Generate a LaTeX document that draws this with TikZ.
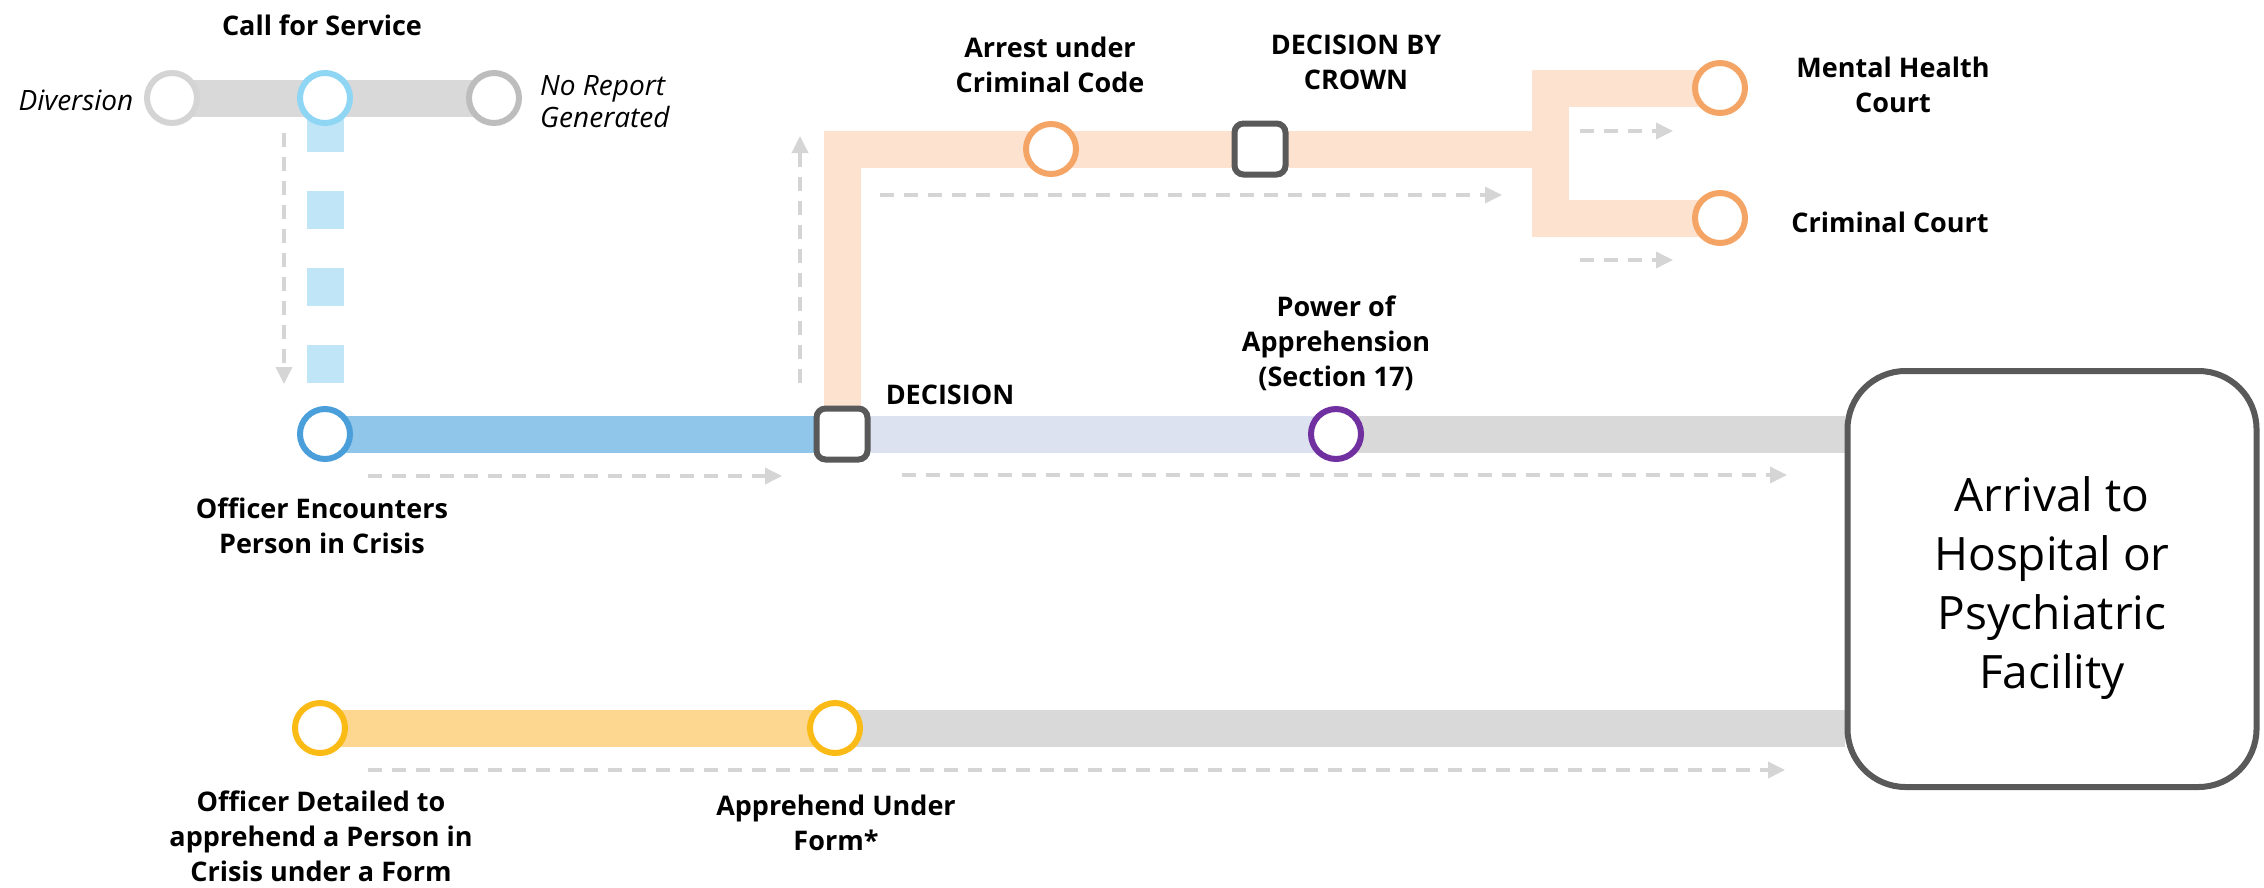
\documentclass[tikz,border=0pt]{standalone}
\usepackage{fontspec}
\setmainfont{Open Sans}
\usetikzlibrary{arrows.meta,backgrounds}
\definecolor{barGray}{HTML}{D9D9D9}
\definecolor{divRing}{HTML}{D4D4D4}
\definecolor{nrRing}{HTML}{BDBDBD}
\definecolor{callRing}{HTML}{8ED6F4}
\definecolor{blueDash}{HTML}{BFE5F6}
\definecolor{offRing}{HTML}{4A9FDB}
\definecolor{blueBar}{HTML}{8FC6EA}
\definecolor{sqGray}{HTML}{595959}
\definecolor{orBar}{HTML}{FDE2CF}
\definecolor{orRing}{HTML}{F4A566}
\definecolor{lavBar}{HTML}{DDE2F1}
\definecolor{purpRing}{HTML}{7030A0}
\definecolor{yBar}{HTML}{FDD68F}
\definecolor{yRing}{HTML}{FBBB17}
\definecolor{arrGray}{HTML}{D5D5D5}
\begin{document}
\begin{tikzpicture}[x=1pt,y=-1pt,
  ring/.style={circle, draw=#1, line width=6pt, minimum size=50pt, inner sep=0pt, fill=white},
  sqnode/.style={rectangle, draw=sqGray, line width=6pt, minimum size=51pt, inner sep=0pt, rounded corners=9pt, fill=white},
  bar/.style={line width=37pt, line cap=butt, draw=#1},
  darr/.style={draw=arrGray, line width=3.5pt, dash pattern=on 14pt off 10pt, -{Triangle[length=17pt,width=16pt]}},
  lbl/.style={font=\fontsize{27}{35}\selectfont\bfseries, align=center, inner sep=0pt},
  ital/.style={font=\fontsize{28}{32}\selectfont\itshape, inner sep=0pt}
]
\useasboundingbox (0,0) rectangle (2264,887);

% nodes
\node[ring=divRing] (div) at (172,98) {};
\node[ring=callRing] (call) at (325,98) {};
\node[ring=nrRing] (nr) at (494,98) {};
\node[ring=offRing] (off) at (325,434) {};
\node[sqnode] (dec) at (842,434) {};
\node[ring=orRing] (arrest) at (1051,149) {};
\node[sqnode] (crown) at (1260,149) {};
\coordinate (fork) at (1550,149);
\node[ring=orRing] (mh) at (1720,88) {};
\node[ring=orRing] (cc) at (1720,218) {};
\node[ring=purpRing] (pwr) at (1336,434) {};
\node[ring=yRing] (det) at (320,728) {};
\node[ring=yRing] (app) at (835,728) {};
\node[draw=sqGray, line width=6pt, rounded corners=58pt, fill=white,
      minimum width=409pt, minimum height=416pt, inner sep=0pt] (box) at (2052,579) {};
\node[font=\fontsize{46}{59}\selectfont, align=center, inner sep=0pt] (tBox) at (2052,588)
      {Arrival to\\Hospital or\\Psychiatric\\Facility};

% bars
\begin{scope}[on background layer]
\fill[white] (0,0) rectangle (2264,887);
\draw[bar=barGray] (div.center) -- (nr.center);
\coordinate (bd1) at (325,114);
\coordinate (bd2) at (325,383);
\draw[bar=blueDash, dash pattern=on 38pt off 39pt] (bd1) -- (bd2);
\draw[bar=blueBar] (off.center) -- (dec.center);
\draw[bar=orBar, line join=miter] (dec.center) |- (arrest.center) -- (crown.center) -- (fork);
\draw[bar=orBar, line join=miter] (mh.center) -| (fork) |- (cc.center);
\draw[bar=lavBar] (dec.center) -- (pwr.center);
\draw[bar=barGray] (pwr.center) -- (pwr.center -| box.west);
\draw[bar=yBar] (det.center) -- (app.center);
\draw[bar=barGray] (app.center) -- (app.center -| box.west);
\end{scope}

% dashed arrows
\coordinate (a1s) at (284,133); \coordinate (a1e) at (284,384);
\draw[darr] (a1s) -- (a1e);
\coordinate (a2s) at (368,476); \coordinate (a2e) at (782,476);
\draw[darr] (a2s) -- (a2e);
\coordinate (a3s) at (800,383); \coordinate (a3e) at (800,136);
\draw[darr] (a3s) -- (a3e);
\coordinate (a4s) at (880,195); \coordinate (a4e) at (1502,195);
\draw[darr] (a4s) -- (a4e);
\coordinate (a5s) at (1580,131); \coordinate (a5e) at (1673,131);
\draw[darr] (a5s) -- (a5e);
\coordinate (a6s) at (1580,260); \coordinate (a6e) at (1673,260);
\draw[darr] (a6s) -- (a6e);
\coordinate (a7s) at (902,475); \coordinate (a7e) at (1787,475);
\draw[darr] (a7s) -- (a7e);
\coordinate (a8s) at (368,770); \coordinate (a8e) at (1785,770);
\draw[darr] (a8s) -- (a8e);

% labels
\node[lbl] (tCall) at (322,25) {Call for Service};
\node[ital] (tDiv) at (76,100) {Diversion};
\node[ital, align=left, anchor=west] (tNR) at (540,102) {No Report\\Generated};
\node[lbl] (tArr) at (1050,65) {Arrest under\\Criminal Code};
\node[lbl] (tCrown) at (1356,62) {DECISION BY\\CROWN};
\node[lbl] (tMH) at (1893,85) {Mental Health\\Court};
\node[lbl] (tCC) at (1890,222) {Criminal Court};
\node[lbl] (tDec) at (950,395) {DECISION};
\node[lbl] (tPwr) at (1336,343) {Power of\\Apprehension\\(Section 17)};
\node[lbl] (tOff) at (322,526) {Officer Encounters\\Person in Crisis};
\node[lbl] (tDet) at (321,836) {Officer Detailed to\\apprehend a Person in\\Crisis under a Form};
\node[lbl] (tApp) at (836,823) {Apprehend Under\\Form*};
\end{tikzpicture}
\end{document}
